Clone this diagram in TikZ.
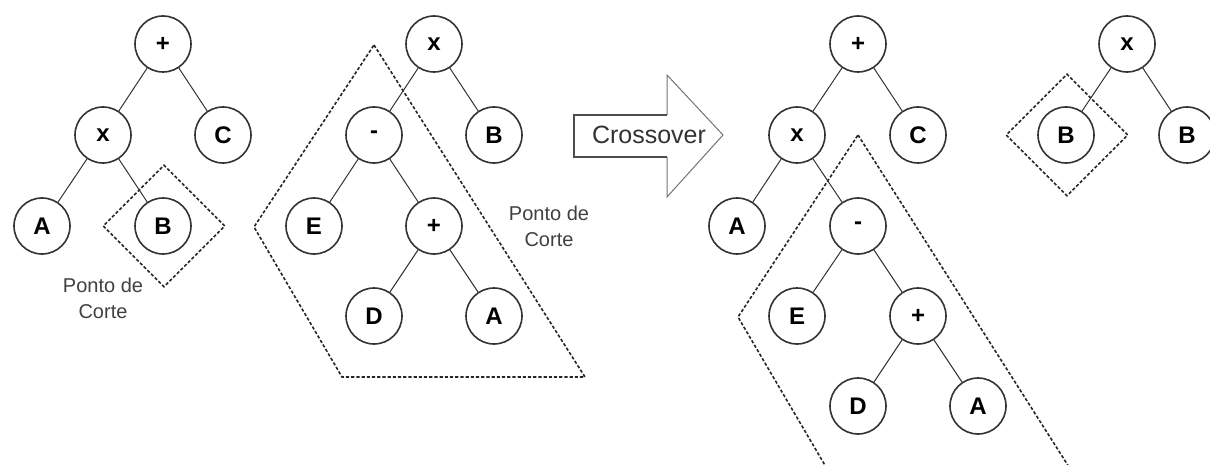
\documentclass[tikz,border=0pt]{standalone}
\usepackage{fontspec}
\setmainfont{Liberation Sans}
\usepackage{tikz}
\usetikzlibrary{positioning,shapes.geometric}

\tikzset{
	gnode/.style={circle, draw=black!80, line width=0.8pt, minimum size=28pt, inner sep=0pt, font=\fontsize{12}{14}\selectfont\bfseries},
	edge/.style={draw=black!80, line width=0.5pt},
	cut/.style={draw=black!85, line width=0.8pt, dash pattern=on 1.6pt off 1pt},
	corte/.style={align=center, text=black!75, font=\fontsize{10}{13}\selectfont}
}

\begin{document}
\begin{tikzpicture}[x=0.5pt, y=-0.5pt]
	\useasboundingbox (0,0) rectangle (1210,465);
	\clip (0,0) rectangle (1210,465);

	% pai 1
	\node [gnode] (p1-plus) at (163,44) {+};
	\node [gnode] (p1-x) at (103,135) {x};
	\node [gnode] (p1-c) at (223,135) {C};
	\node [gnode] (p1-a) at (42,226) {A};
	\node [gnode] (p1-b) at (163,226) {B};
	\node [diamond, cut, minimum width=61pt, minimum height=61pt] (cut-1) at (164,226) {};
	\node [corte] (txt-1) at (103,298) {Ponto de\\Corte};

	\foreach \a/\b in {p1-plus/p1-x, p1-plus/p1-c, p1-x/p1-a, p1-x/p1-b}
	\draw [edge] (\a) -- (\b);

	% pai 2
	\node [gnode] (p2-x) at (434,44) {x};
	\node [gnode] (p2-minus) at (374,135) {-};
	\node [gnode] (p2-b) at (494,135) {B};
	\node [gnode] (p2-e) at (314,226) {E};
	\node [gnode] (p2-plus) at (434,226) {+};
	\node [gnode] (p2-d) at (374,316) {D};
	\node [gnode] (p2-a) at (494,316) {A};
	\draw [cut] (374,45) -- (585,377) -- (342,377) -- (254,227) -- cycle;
	\node [corte] (txt-2) at (549,226) {Ponto de\\Corte};

	\foreach \a/\b in {p2-x/p2-minus, p2-x/p2-b, p2-minus/p2-e, p2-minus/p2-plus, p2-plus/p2-d, p2-plus/p2-a}
	\draw [edge] (\a) -- (\b);

	% seta
	\draw [black!55, line width=0.5pt] (667,115) -- (667,75) -- (723,135) -- (667,197) -- (667,157);
	\draw [black!70, line width=1.2pt] (667,115) -- (574,115) -- (574,157) -- (667,157);
	\node [text=black!80, font=\fontsize{12.5}{14}\selectfont] (cross) at (649,135) {Crossover};

	% filho 1
	\node [gnode] (f1-plus) at (858,44) {+};
	\node [gnode] (f1-x) at (797,135) {x};
	\node [gnode] (f1-c) at (918,135) {C};
	\node [gnode] (f1-a) at (737,226) {A};
	\node [gnode] (f1-minus) at (858,226) {-};
	\node [gnode] (f1-e) at (797,316) {E};
	\node [gnode] (f1-plus2) at (918,316) {+};
	\node [gnode] (f1-d) at (858,406) {D};
	\node [gnode] (f1-a2) at (978,406) {A};
	\begin{scope}[shift={(484,90)}]
		\draw [cut] (374,45) -- (585,377) -- (342,377) -- (254,227) -- cycle;
	\end{scope}

	\foreach \a/\b in {f1-plus/f1-x, f1-plus/f1-c, f1-x/f1-a, f1-x/f1-minus, f1-minus/f1-e, f1-minus/f1-plus2, f1-plus2/f1-d, f1-plus2/f1-a2}
	\draw [edge] (\a) -- (\b);

	% filho 2
	\node [gnode] (f2-x) at (1127,44) {x};
	\node [gnode] (f2-b) at (1066,135) {B};
	\node [gnode] (f2-b2) at (1187,135) {B};
	\node [diamond, cut, minimum width=61pt, minimum height=61pt] (cut-2) at (1067,135) {};

	\foreach \a/\b in {f2-x/f2-b, f2-x/f2-b2}
	\draw [edge] (\a) -- (\b);

\end{tikzpicture}
\end{document}
